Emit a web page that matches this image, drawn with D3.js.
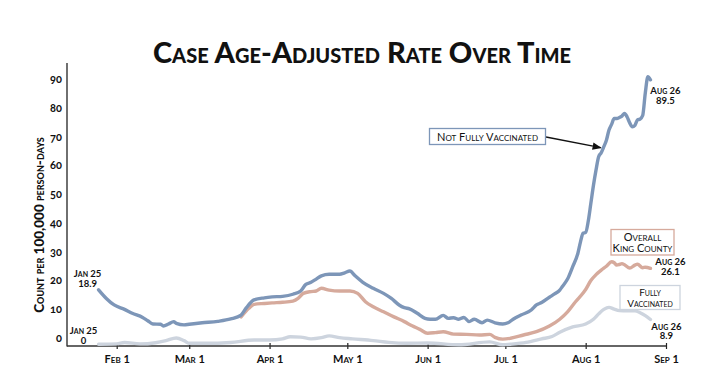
<!DOCTYPE html>
<html>
<head>
<meta charset="utf-8">
<title>Case Age-Adjusted Rate Over Time</title>
<script src="https://d3js.org/d3.v7.min.js"></script>
<style>
  body { margin: 0; background: #fff; }
  svg text { font-family: Lato, "Open Sans", sans-serif; font-variant-caps: small-caps; fill: #111; }
  .title { font-size: 29px; font-weight: 900; }
  .y_title { font-size: 13.5px; font-weight: 900; }
  .y_tick text { font-size: 11px; font-weight: 700; font-variant-numeric: oldstyle-nums; }
  .x_tick text { font-size: 11px; font-weight: 700; }
  .end_label { font-size: 9.5px; font-weight: 700; }
  .box_label { font-size: 11px; font-weight: 400; }
  .box_small { font-size: 10px; }
  .series { fill: none; stroke-width: 3.4; stroke-linejoin: round; stroke-linecap: round; }
</style>
</head>
<body>
<div id="chart"></div>
<script>
// values, [date, count per 100,000 person-days]
const notVaccinated = [
  ["2021-01-25", 18.9], ["2021-01-28", 16.0], ["2021-01-31", 13.8], ["2021-02-04", 12.3],
  ["2021-02-07", 11.0], ["2021-02-11", 9.6], ["2021-02-13", 8.5], ["2021-02-15", 7.4],
  ["2021-02-18", 7.3], ["2021-02-19", 6.7], ["2021-02-21", 7.4], ["2021-02-23", 8.2],
  ["2021-02-24", 7.6], ["2021-02-27", 7.1], ["2021-03-01", 7.3], ["2021-03-06", 7.8],
  ["2021-03-12", 8.3], ["2021-03-17", 9.1], ["2021-03-21", 10.4], ["2021-03-23", 12.8],
  ["2021-03-26", 15.5], ["2021-03-30", 16.2], ["2021-04-02", 16.5], ["2021-04-06", 16.7],
  ["2021-04-10", 17.4], ["2021-04-13", 18.5], ["2021-04-15", 20.7], ["2021-04-17", 21.4],
  ["2021-04-19", 22.5], ["2021-04-21", 23.6], ["2021-04-24", 24.1], ["2021-04-28", 24.1],
  ["2021-04-30", 24.6], ["2021-05-02", 25.2], ["2021-05-04", 23.6], ["2021-05-07", 21.4],
  ["2021-05-11", 19.4], ["2021-05-15", 17.7], ["2021-05-18", 16.0], ["2021-05-21", 13.8],
  ["2021-05-23", 12.9], ["2021-05-25", 12.5], ["2021-05-28", 11.0], ["2021-05-31", 9.3],
  ["2021-06-02", 9.0], ["2021-06-04", 9.0], ["2021-06-07", 10.3], ["2021-06-09", 9.3],
  ["2021-06-11", 9.5], ["2021-06-13", 9.0], ["2021-06-15", 9.6], ["2021-06-17", 8.2],
  ["2021-06-19", 9.0], ["2021-06-22", 7.8], ["2021-06-24", 8.7], ["2021-06-27", 7.8],
  ["2021-06-30", 7.4], ["2021-07-02", 7.8], ["2021-07-04", 9.0], ["2021-07-07", 10.4],
  ["2021-07-11", 12.1], ["2021-07-13", 13.8], ["2021-07-15", 14.6], ["2021-07-18", 16.4],
  ["2021-07-20", 17.5], ["2021-07-22", 18.8], ["2021-07-23", 20.0], ["2021-07-25", 22.5],
  ["2021-07-27", 26.7], ["2021-07-29", 31.2], ["2021-07-30", 35.0], ["2021-07-31", 37.9],
  ["2021-08-01", 38.2], ["2021-08-02", 42.0], ["2021-08-03", 48.0], ["2021-08-04", 54.0],
  ["2021-08-05", 59.2], ["2021-08-06", 63.6], ["2021-08-07", 65.0], ["2021-08-08", 67.0],
  ["2021-08-09", 69.2], ["2021-08-10", 72.6], ["2021-08-11", 74.5], ["2021-08-12", 76.5],
  ["2021-08-13", 76.5], ["2021-08-14", 76.8], ["2021-08-15", 77.3], ["2021-08-16", 78.2],
  ["2021-08-17", 77.0], ["2021-08-18", 75.0], ["2021-08-19", 73.7], ["2021-08-20", 74.2],
  ["2021-08-21", 76.0], ["2021-08-22", 76.3], ["2021-08-23", 77.5], ["2021-08-24", 85.0],
  ["2021-08-25", 90.5], ["2021-08-26", 89.5]
];

const overallKing = [
  ["2021-03-21", 9.8], ["2021-03-24", 12.7], ["2021-03-26", 14.0], ["2021-03-30", 14.3],
  ["2021-04-02", 14.5], ["2021-04-06", 14.7], ["2021-04-10", 15.1], ["2021-04-12", 16.0],
  ["2021-04-14", 17.7], ["2021-04-17", 18.3], ["2021-04-19", 18.5], ["2021-04-21", 19.4],
  ["2021-04-24", 18.8], ["2021-04-28", 18.5], ["2021-05-02", 18.5], ["2021-05-05", 17.7],
  ["2021-05-08", 14.9], ["2021-05-11", 13.2], ["2021-05-15", 11.5], ["2021-05-19", 9.8],
  ["2021-05-23", 8.2], ["2021-05-26", 6.8], ["2021-05-29", 5.6], ["2021-06-01", 4.3],
  ["2021-06-04", 4.5], ["2021-06-07", 4.8], ["2021-06-11", 4.0], ["2021-06-16", 3.9],
  ["2021-06-21", 3.7], ["2021-06-25", 3.9], ["2021-06-27", 2.9], ["2021-06-30", 2.3],
  ["2021-07-03", 2.6], ["2021-07-08", 3.7], ["2021-07-13", 4.8], ["2021-07-18", 6.7],
  ["2021-07-22", 9.0], ["2021-07-25", 11.5], ["2021-07-28", 14.8], ["2021-07-31", 17.8],
  ["2021-08-01", 19.0], ["2021-08-03", 22.0], ["2021-08-05", 24.0], ["2021-08-07", 25.5],
  ["2021-08-09", 26.8], ["2021-08-11", 28.3], ["2021-08-12", 28.0], ["2021-08-13", 27.2],
  ["2021-08-14", 27.4], ["2021-08-15", 27.7], ["2021-08-16", 27.3], ["2021-08-18", 26.2],
  ["2021-08-20", 27.2], ["2021-08-21", 27.5], ["2021-08-23", 26.3], ["2021-08-24", 26.5],
  ["2021-08-26", 26.1]
];

const fullyVaccinated = [
  ["2021-01-25", 0.6], ["2021-02-01", 0.7], ["2021-02-04", 1.2], ["2021-02-10", 0.7],
  ["2021-02-16", 1.1], ["2021-02-20", 1.8], ["2021-02-24", 2.7], ["2021-02-27", 1.8],
  ["2021-03-01", 0.9], ["2021-03-07", 0.9], ["2021-03-17", 1.2], ["2021-03-26", 2.0],
  ["2021-04-01", 2.0], ["2021-04-06", 2.4], ["2021-04-09", 3.1], ["2021-04-13", 3.0],
  ["2021-04-17", 2.4], ["2021-04-21", 2.8], ["2021-04-24", 3.4], ["2021-04-28", 2.8],
  ["2021-05-03", 2.4], ["2021-05-11", 1.8], ["2021-05-17", 1.2], ["2021-05-24", 0.9],
  ["2021-06-01", 1.0], ["2021-06-13", 0.4], ["2021-06-25", 1.4], ["2021-06-30", 0.4],
  ["2021-07-03", 0.6], ["2021-07-09", 1.2], ["2021-07-15", 2.4], ["2021-07-19", 3.2],
  ["2021-07-22", 4.6], ["2021-07-27", 6.4], ["2021-08-01", 7.4], ["2021-08-04", 9.0],
  ["2021-08-06", 10.8], ["2021-08-08", 12.3], ["2021-08-10", 13.0], ["2021-08-12", 12.4],
  ["2021-08-14", 11.9], ["2021-08-17", 11.8], ["2021-08-20", 11.8], ["2021-08-22", 11.2],
  ["2021-08-24", 10.2], ["2021-08-26", 8.9]
];

const yTicks = [0, 10, 20, 30, 40, 50, 60, 70, 80, 90];
const monthTicks = ["2021-02-01", "2021-03-01", "2021-04-01", "2021-05-01",
                    "2021-06-01", "2021-07-01", "2021-08-01", "2021-09-01"];

const colors = { notVax: "#7d96b8", overall: "#d6aa9c", vax: "#cdd4de" };

const W = 720, H = 390;
const axisLeftX = 67, axisTopY = 63;

const parse = d3.timeParse("%Y-%m-%d");

const svg = d3.select("#chart").append("svg")
    .attr("width", W)
    .attr("height", H);

// scales
const x = d3.scaleTime()
    .domain([parse("2021-02-01"), parse("2021-09-01")])
    .range([116.7, 666]);

const y = d3.scaleLinear()
    .domain([0, 90])
    .range([346, 78.3]);

// tick labels in the original sit on a slightly tighter spacing
const yLab = d3.scaleLinear()
    .domain([0, 90])
    .range([338, 79]);

// title
svg.append("text")
    .attr("class", "title")
    .attr("x", 362)
    .attr("y", 63)
    .attr("text-anchor", "middle")
    .text("Case Age-Adjusted Rate Over Time");

// y axis title
svg.append("text")
    .attr("class", "y_title")
    .attr("transform", "translate(44,225) rotate(-90)")
    .attr("text-anchor", "middle")
    .text("Count per 100,000 person-days");

// y axis labels
svg.append("g")
    .attr("class", "y_tick")
    .attr("transform", `translate(${axisLeftX},0)`)
    .call(d3.axisLeft(yLab).tickValues(yTicks).tickSize(0).tickPadding(5))
    .call(g => g.select(".domain").remove());

// x axis
const xAxis = svg.append("g")
    .attr("class", "x_tick")
    .attr("transform", `translate(0,${y(0)})`)
    .call(d3.axisBottom(x)
        .tickValues(monthTicks.map(parse))
        .tickFormat(d3.timeFormat("%b %-d"))
        .tickSize(3)
        .tickPadding(6))
    .call(g => g.select(".domain").remove());

xAxis.selectAll(".tick line")
    .attr("y1", -3)
    .attr("stroke", "#222")
    .attr("stroke-width", 1.2);

// axis lines
svg.append("line")
    .attr("x1", axisLeftX).attr("x2", axisLeftX)
    .attr("y1", axisTopY).attr("y2", y(0) + 0.5)
    .attr("stroke", "#333").attr("stroke-width", 1.4);

svg.append("line")
    .attr("x1", axisLeftX).attr("x2", x.range()[1])
    .attr("y1", y(0)).attr("y2", y(0))
    .attr("stroke", "#333").attr("stroke-width", 1.4);

// lines
const line = d3.line()
    .x(d => x(parse(d[0])))
    .y(d => y(d[1]))
    .curve(d3.curveMonotoneX);

svg.append("path").datum(fullyVaccinated)
    .attr("class", "series").attr("stroke", colors.vax).attr("d", line);
svg.append("path").datum(overallKing)
    .attr("class", "series").attr("stroke", colors.overall).attr("d", line);
svg.append("path").datum(notVaccinated)
    .attr("class", "series").attr("stroke", colors.notVax).attr("d", line);

// start / end labels
function twoLine(px, py, l1, l2, gap) {
    const t = svg.append("text")
        .attr("class", "end_label")
        .attr("text-anchor", "middle")
        .attr("x", px).attr("y", py);
    t.append("tspan").attr("x", px).text(l1);
    t.append("tspan").attr("x", px).attr("dy", gap).text(l2);
}

const first = notVaccinated[0], lastNv = notVaccinated[notVaccinated.length - 1];
const lastOv = overallKing[overallKing.length - 1];
const firstV = fullyVaccinated[0], lastV = fullyVaccinated[fullyVaccinated.length - 1];

twoLine(x(parse(first[0])) - 11, y(first[1]) - 13, "Jan 25", first[1].toFixed(1), 10);
twoLine(x(parse(firstV[0])) - 15, y(0) - 12, "Jan 25", "0", 9.5);
twoLine(x(parse(lastNv[0])) + 15, y(lastNv[1]) + 14, "Aug 26", lastNv[1].toFixed(1), 10);
twoLine(x(parse(lastOv[0])) + 20, y(lastOv[1]) - 3, "Aug 26", lastOv[1].toFixed(1), 10);
twoLine(x(parse(lastV[0])) + 16, y(lastV[1]) + 10, "Aug 26", lastV[1].toFixed(1), 9.5);

// legend boxes
function box(x0, y0, w, h, stroke, lines, lineGap, cls) {
    svg.append("rect")
        .attr("x", x0).attr("y", y0)
        .attr("width", w).attr("height", h)
        .attr("fill", "#fff")
        .attr("stroke", stroke).attr("stroke-width", 1.3);
    const t = svg.append("text")
        .attr("class", "box_label " + (cls || ""))
        .attr("text-anchor", "middle")
        .attr("y", y0 + (h - (lines.length - 1) * lineGap) / 2 + 4);
    lines.forEach((s, i) => {
        t.append("tspan")
            .attr("x", x0 + w / 2)
            .attr("dy", i === 0 ? 0 : lineGap)
            .text(s);
    });
}

// arrow
svg.append("defs").append("marker")
    .attr("id", "arrowhead")
    .attr("viewBox", "0 0 10 10")
    .attr("refX", 9).attr("refY", 5)
    .attr("markerWidth", 7).attr("markerHeight", 7)
    .attr("orient", "auto")
  .append("path")
    .attr("d", "M0,1 L10,5 L0,9 Z")
    .attr("fill", "#111");

const arrowAt = notVaccinated.find(d => d[0] === "2021-08-08");
svg.append("line")
    .attr("x1", 546).attr("y1", 137)
    .attr("x2", x(parse(arrowAt[0])) - 3)
    .attr("y2", y(arrowAt[1]) + 1)
    .attr("stroke", "#111").attr("stroke-width", 1.3)
    .attr("marker-end", "url(#arrowhead)");

box(429.5, 128.5, 116, 16, colors.notVax, ["Not Fully Vaccinated"], 12);
box(611, 229.5, 63, 25.5, colors.overall, ["Overall", "King County"], 11.5);
box(620, 285.5, 60, 24, colors.vax, ["Fully", "Vaccinated"], 11, "box_small");
</script>
</body>
</html>
